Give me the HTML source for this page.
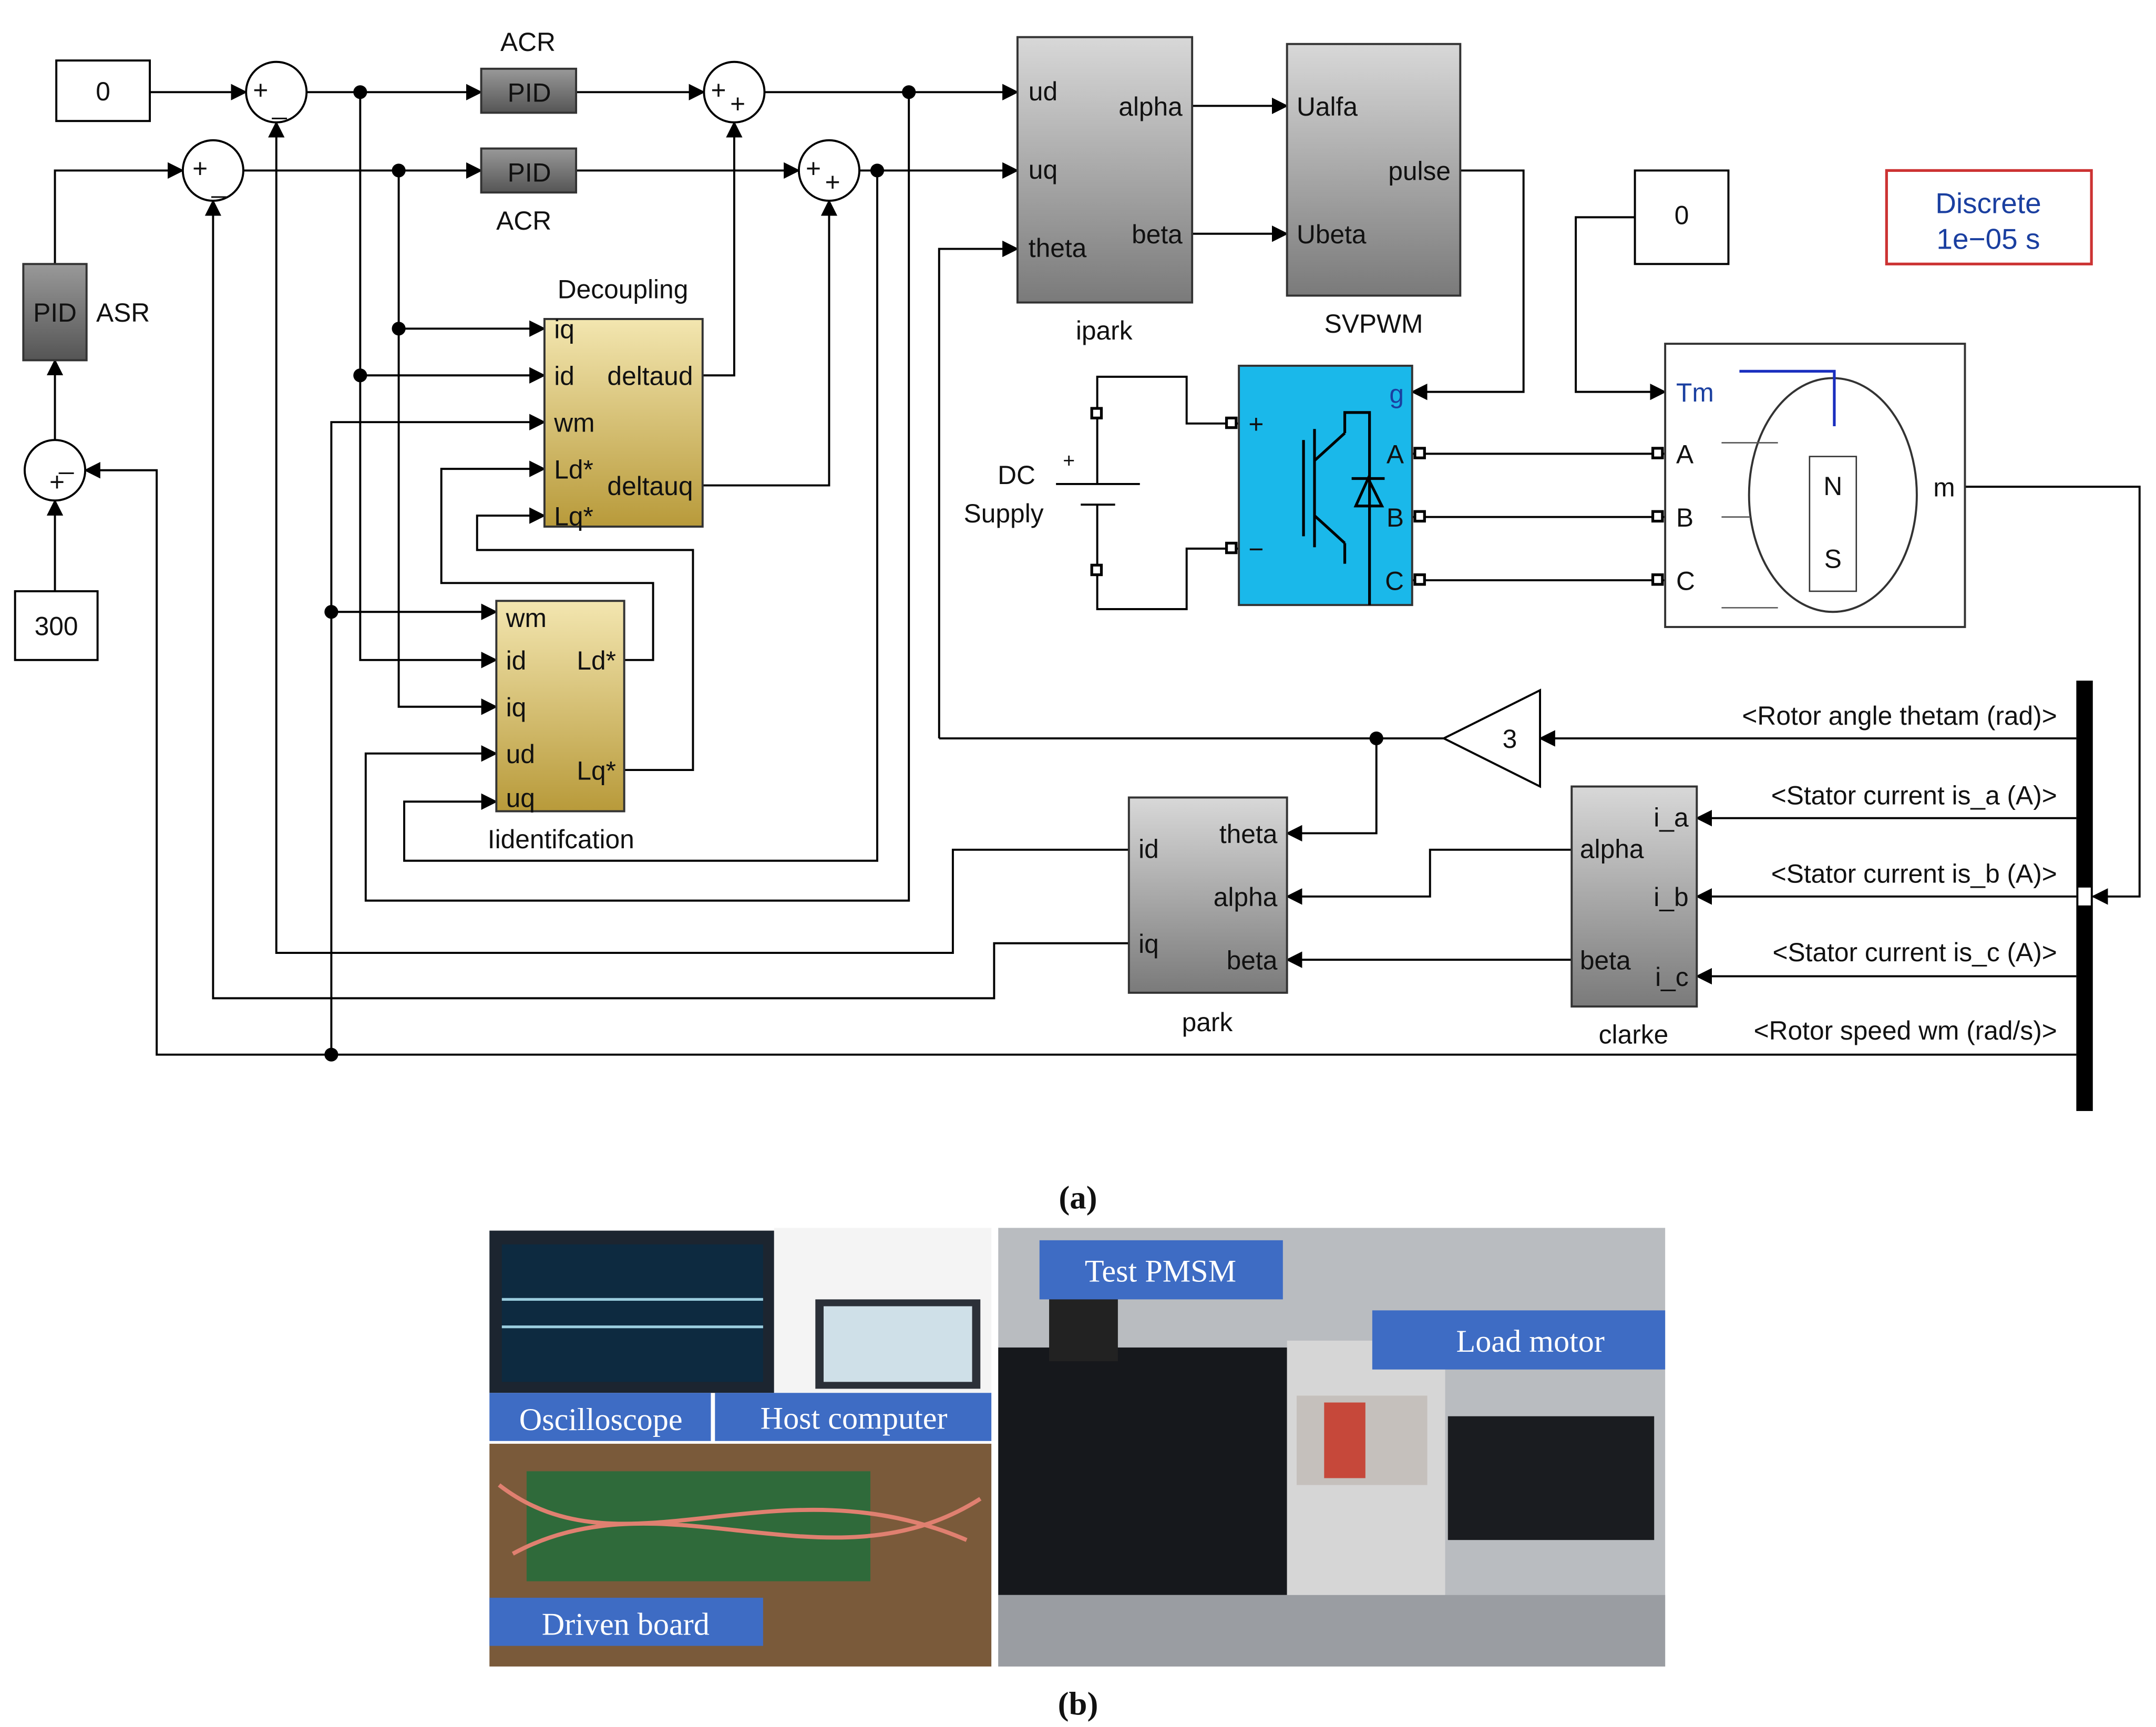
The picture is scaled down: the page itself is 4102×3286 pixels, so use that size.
<!DOCTYPE html>
<html><head><meta charset="utf-8"><style>
html,body{margin:0;padding:0;background:#fff;}
svg{display:block;}
text{font-family:"Liberation Sans",sans-serif;font-size:19px;fill:#111;}
.s{font-family:"Liberation Serif",serif;}
.w{fill:#fff;font-family:"Liberation Serif",serif;font-size:23px;}
</style></head><body>
<svg width="4102" height="3286" viewBox="0 0 1562 1256" xmlns="http://www.w3.org/2000/svg">
<defs>
<marker id="a" markerWidth="12" markerHeight="12" refX="11" refY="6" orient="auto" markerUnits="userSpaceOnUse"><path d="M0,0 L12,6 L0,12 z" fill="#000"/></marker>
<linearGradient id="g" x1="0" y1="0" x2="0" y2="1"><stop offset="0" stop-color="#d8d8d8"/><stop offset="1" stop-color="#7a7a7a"/></linearGradient>
<linearGradient id="y" x1="0" y1="0" x2="0" y2="1"><stop offset="0" stop-color="#f3e6b0"/><stop offset="1" stop-color="#b89a3a"/></linearGradient>
<linearGradient id="p" x1="0" y1="0" x2="0" y2="1"><stop offset="0" stop-color="#999"/><stop offset="1" stop-color="#555"/></linearGradient>
</defs>
<g fill="none" stroke="#000" stroke-width="1.5">
<path d="M106,67H176" marker-end="url(#a)"/>
<path d="M220,67H347" marker-end="url(#a)"/>
<path d="M416,67H509" marker-end="url(#a)"/>
<path d="M553,67H737" marker-end="url(#a)"/>
<path d="M37,192V124H130" marker-end="url(#a)"/>
<path d="M174,124H347" marker-end="url(#a)"/>
<path d="M416,124H578" marker-end="url(#a)"/>
<path d="M622,124H737" marker-end="url(#a)"/>
<path d="M680,537V181H737" marker-end="url(#a)"/>
<path d="M864,77H933" marker-end="url(#a)"/>
<path d="M864,170H933" marker-end="url(#a)"/>
<path d="M1059,124H1105V285H1024" marker-end="url(#a)"/>
<path d="M1186,158H1143V285H1208" marker-end="url(#a)"/>
<path d="M1024,330H1208M1024,376H1208M1024,422H1208"/>
<path d="M795,300V274H860V308H898M795,415V443H860V399H898"/>
<path d="M1426,354H1553V652H1519" marker-end="url(#a)"/>
<path d="M1507,537H1117" marker-end="url(#a)"/>
<path d="M1047,537H680"/>
<path d="M998,537V606H933" marker-end="url(#a)"/>
<path d="M1507,595H1231" marker-end="url(#a)"/>
<path d="M1507,652H1231" marker-end="url(#a)"/>
<path d="M1507,710H1231" marker-end="url(#a)"/>
<path d="M1140,618H1037V652H933" marker-end="url(#a)"/>
<path d="M1140,698H933" marker-end="url(#a)"/>
<path d="M818,618H690V693H198V89" marker-end="url(#a)"/>
<path d="M818,686H720V726H152V146" marker-end="url(#a)"/>
<path d="M1507,767H111V342H59" marker-end="url(#a)"/>
<path d="M37,430V364" marker-end="url(#a)"/>
<path d="M37,320V262" marker-end="url(#a)"/>
<path d="M238,767V445H358" marker-end="url(#a)"/>
<path d="M238,445V307H393" marker-end="url(#a)"/>
<path d="M287,124V514H358" marker-end="url(#a)"/>
<path d="M287,239H393" marker-end="url(#a)"/>
<path d="M259,67V480H358" marker-end="url(#a)"/>
<path d="M259,273H393" marker-end="url(#a)"/>
<path d="M508,273H531V89" marker-end="url(#a)"/>
<path d="M508,353H600V146" marker-end="url(#a)"/>
<path d="M451,480H472V424H318V341H393" marker-end="url(#a)"/>
<path d="M451,560H501V400H344V375H393" marker-end="url(#a)"/>
<path d="M658,67V655H263V548H358" marker-end="url(#a)"/>
<path d="M635,124V626H291V583H358" marker-end="url(#a)"/>
</g>
<g fill="#000">
<circle cx="259" cy="67" r="5"/><circle cx="658" cy="67" r="5"/><circle cx="287" cy="124" r="5"/><circle cx="635" cy="124" r="5"/>
<circle cx="287" cy="239" r="5"/><circle cx="259" cy="273" r="5"/><circle cx="238" cy="445" r="5"/><circle cx="238" cy="767" r="5"/><circle cx="998" cy="537" r="5"/>
</g>
<g stroke="#000" stroke-width="1.5" fill="#fff">
<rect x="38" y="44" width="68" height="44"/><rect x="1186" y="124" width="68" height="68"/><rect x="8" y="430" width="60" height="50"/>
<circle cx="198" cy="67" r="22"/><circle cx="152" cy="124" r="22"/><circle cx="531" cy="67" r="22"/><circle cx="600" cy="124" r="22"/><circle cx="37" cy="342" r="22"/>
<polygon points="1047,537 1117,502 1117,572"/>
</g>
<text x="72" y="73" text-anchor="middle">0</text><text x="1220" y="163" text-anchor="middle">0</text><text x="38" y="462" text-anchor="middle">300</text>
<text x="1095" y="544" text-anchor="middle">3</text>
<g style="font-size:13px"><text x="181" y="72">+</text><text x="195" y="83">_</text><text x="137" y="129">+</text><text x="151" y="140">_</text>
<text x="514" y="72">+</text><text x="528" y="82">+</text><text x="583" y="129">+</text><text x="597" y="139">+</text><text x="40" y="341">_</text><text x="33" y="357">+</text></g>
<rect x="1369" y="124" width="149" height="68" fill="#fff" stroke="#c33" stroke-width="2"/>
<text x="1443" y="155" text-anchor="middle" style="fill:#1a3fa0;font-size:21px">Discrete</text>
<text x="1443" y="181" text-anchor="middle" style="fill:#1a3fa0;font-size:21px">1e−05 s</text>
<g stroke="#333" stroke-width="1.5" fill="url(#p)"><rect x="347" y="50" width="69" height="32"/><rect x="347" y="108" width="69" height="32"/><rect x="14" y="192" width="46" height="70"/></g>
<text x="382" y="74" text-anchor="middle">PID</text><text x="382" y="132" text-anchor="middle">PID</text><text x="37" y="234" text-anchor="middle">PID</text>
<text x="381" y="37" text-anchor="middle">ACR</text><text x="378" y="167" text-anchor="middle">ACR</text><text x="67" y="234">ASR</text>
<g stroke="#333" stroke-width="1.5" fill="url(#g)"><rect x="737" y="27" width="127" height="193"/><rect x="933" y="32" width="126" height="183"/><rect x="818" y="580" width="115" height="142"/><rect x="1140" y="572" width="91" height="160"/></g>
<text x="745" y="73">ud</text><text x="745" y="130">uq</text><text x="745" y="187">theta</text><text x="857" y="84" text-anchor="end">alpha</text><text x="857" y="177" text-anchor="end">beta</text>
<text x="800" y="247" text-anchor="middle">ipark</text>
<text x="940" y="84">Ualfa</text><text x="940" y="177">Ubeta</text><text x="1052" y="131" text-anchor="end">pulse</text><text x="996" y="242" text-anchor="middle">SVPWM</text>
<text x="825" y="624">id</text><text x="825" y="693">iq</text><text x="926" y="613" text-anchor="end">theta</text><text x="926" y="659" text-anchor="end">alpha</text><text x="926" y="705" text-anchor="end">beta</text>
<text x="875" y="750" text-anchor="middle">park</text>
<text x="1146" y="624">alpha</text><text x="1146" y="705">beta</text><text x="1225" y="601" text-anchor="end">i_a</text><text x="1225" y="659" text-anchor="end">i_b</text><text x="1225" y="717" text-anchor="end">i_c</text>
<text x="1185" y="759" text-anchor="middle">clarke</text>
<g stroke="#333" stroke-width="1.5" fill="url(#y)"><rect x="393" y="232" width="115" height="151"/><rect x="358" y="437" width="93" height="153"/></g>
<text x="450" y="217" text-anchor="middle">Decoupling</text>
<text x="400" y="246">iq</text><text x="400" y="280">id</text><text x="400" y="314">wm</text><text x="400" y="348">Ld*</text><text x="400" y="382">Lq*</text>
<text x="501" y="280" text-anchor="end">deltaud</text><text x="501" y="360" text-anchor="end">deltauq</text>
<text x="365" y="456">wm</text><text x="365" y="487">id</text><text x="365" y="521">iq</text><text x="365" y="555">ud</text><text x="365" y="587">uq</text>
<text x="445" y="487" text-anchor="end">Ld*</text><text x="445" y="567" text-anchor="end">Lq*</text>
<text x="405" y="617" text-anchor="middle">Iidentifcation</text>
<rect x="898" y="266" width="126" height="174" fill="#1ab8ea" stroke="#333" stroke-width="1.5"/>
<g stroke="#000" stroke-width="2" fill="none"><path d="M945,320V390M953,312V398M953,335L975,315M953,375L975,395M975,315V300H993V440M975,395V410M980,348H1004M983,368L992,348L1002,368Z"/></g>
<text x="1018" y="293" text-anchor="end" style="fill:#1a3fa0">g</text><text x="905" y="315">+</text><text x="905" y="406">−</text>
<text x="1018" y="337" text-anchor="end">A</text><text x="1018" y="383" text-anchor="end">B</text><text x="1018" y="429" text-anchor="end">C</text>
<g fill="#fff" stroke="#000" stroke-width="2"><rect x="889" y="304" width="7" height="7"/><rect x="889" y="395" width="7" height="7"/><rect x="1026" y="326" width="7" height="7"/><rect x="1026" y="372" width="7" height="7"/><rect x="1026" y="418" width="7" height="7"/>
<rect x="1199" y="326" width="7" height="7"/><rect x="1199" y="372" width="7" height="7"/><rect x="1199" y="418" width="7" height="7"/><rect x="791" y="297" width="7" height="7"/><rect x="791" y="411" width="7" height="7"/></g>
<g stroke="#000" stroke-width="1.5"><path d="M765,352H826M783,367H808M795,304V352M795,367V411"/></g>
<text x="770" y="340" style="font-size:15px">+</text>
<text x="750" y="352" text-anchor="end">DC</text><text x="756" y="380" text-anchor="end">Supply</text>
<rect x="1208" y="250" width="218" height="206" fill="#fff" stroke="#333" stroke-width="1.5"/>
<ellipse cx="1330" cy="360" rx="61" ry="85" fill="none" stroke="#333" stroke-width="1.5"/>
<rect x="1313" y="332" width="34" height="98" fill="none" stroke="#333"/>
<path d="M1249,322H1290M1249,376H1270M1249,442H1290" stroke="#555" fill="none"/>
<path d="M1262,270H1331V310" stroke="#1a2fbf" stroke-width="2" fill="none"/>
<text x="1216" y="292" style="fill:#1a3fa0">Tm</text><text x="1216" y="337">A</text><text x="1216" y="383">B</text><text x="1216" y="429">C</text>
<text x="1403" y="361">m</text><text x="1330" y="360" text-anchor="middle">N</text><text x="1330" y="413" text-anchor="middle">S</text>
<rect x="1507" y="495" width="12" height="313" fill="#000"/>
<rect x="1508" y="645" width="10" height="14" fill="#fff" stroke="#000"/>
<g text-anchor="end"><text x="1493" y="527">&lt;Rotor angle thetam (rad)&gt;</text><text x="1493" y="585">&lt;Stator current is_a (A)&gt;</text><text x="1493" y="642">&lt;Stator current is_b (A)&gt;</text><text x="1493" y="699">&lt;Stator current is_c (A)&gt;</text><text x="1493" y="756">&lt;Rotor speed wm (rad/s)&gt;</text></g>
<text x="781" y="879" text-anchor="middle" class="s" style="font-size:24px;font-weight:bold">(a)</text>
<text x="781" y="1247" text-anchor="middle" class="s" style="font-size:24px;font-weight:bold">(b)</text>
<rect x="353" y="895" width="207" height="118" fill="#1c2530"/>
<rect x="362" y="905" width="190" height="100" fill="#0d2a40"/>
<path d="M362,945H552M362,965H552" stroke="#9cd" stroke-width="2"/>
<rect x="560" y="893" width="158" height="120" fill="#f4f4f4"/>
<rect x="590" y="945" width="120" height="65" fill="#2b3038"/><rect x="596" y="950" width="108" height="55" fill="#cfe0e8"/>
<rect x="353" y="1050" width="365" height="162" fill="#7a5a3a"/>
<rect x="380" y="1070" width="250" height="80" fill="#2f6a3a"/>
<path d="M360,1080C450,1150 560,1060 700,1120M370,1130C480,1070 600,1160 710,1090" stroke="#e08070" stroke-width="3" fill="none"/>
<rect x="723" y="893" width="485" height="319" fill="#b9bcc0"/>
<rect x="723" y="980" width="210" height="180" fill="#16181c"/>
<rect x="760" y="920" width="50" height="70" fill="#222"/>
<rect x="933" y="975" width="115" height="237" fill="#d6d6d6"/>
<rect x="940" y="1015" width="95" height="65" fill="#c5c0bc"/><rect x="960" y="1020" width="30" height="55" fill="#c6483a"/>
<rect x="1050" y="1030" width="150" height="90" fill="#1a1c20"/>
<rect x="723" y="1160" width="485" height="52" fill="#9a9da2"/>
<g fill="#3e6cc4"><rect x="753" y="902" width="177" height="43"/><rect x="995" y="953" width="213" height="43"/><rect x="353" y="1013" width="161" height="35"/><rect x="517" y="1013" width="201" height="35"/><rect x="353" y="1162" width="199" height="35"/></g>
<g text-anchor="middle"><text x="841" y="932" class="w">Test PMSM</text><text x="1110" y="983" class="w">Load motor</text>
<text x="434" y="1040" class="w">Oscilloscope</text><text x="618" y="1039" class="w">Host computer</text><text x="452" y="1189" class="w">Driven board</text></g>
</svg>
</body></html>
